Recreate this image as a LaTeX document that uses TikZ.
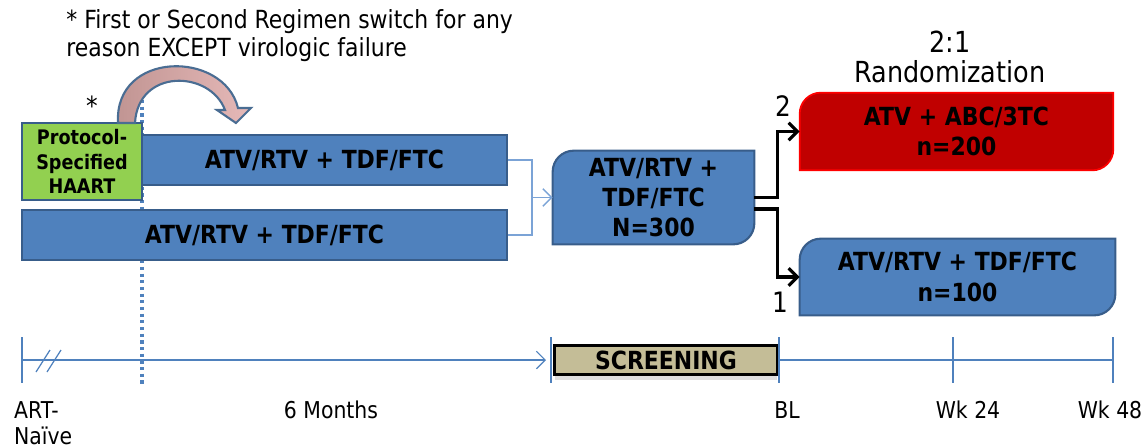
\documentclass[tikz,border=0pt]{standalone}
\usepackage{fontspec}
\setmainfont{DejaVu Sans}[FakeStretch=0.88]
\usetikzlibrary{arrows.meta,backgrounds,shadows}

\definecolor{armblue}{HTML}{4F81BD}
\definecolor{armedge}{HTML}{385D8A}
\definecolor{haartgreen}{HTML}{92D050}
\definecolor{atvred}{HTML}{C00000}
\definecolor{screenfill}{HTML}{C4BD97}
\definecolor{linkblue}{HTML}{7BA3D6}
\definecolor{switchdark}{HTML}{C09492}
\definecolor{switchlight}{HTML}{E6B9B8}
\definecolor{switchedge}{HTML}{4A6D93}

% box with round top-left and bottom-right corners, drawn behind node #2
\newcommand\diagcorners[2]{%
  \begin{scope}[on background layer]
    \path[#1] (#2.south west) [rounded corners=12pt] -- (#2.north west)
      [sharp corners] -- (#2.north east) [rounded corners=12pt] -- (#2.south east)
      [sharp corners] -- cycle;
  \end{scope}}

\begin{document}
\begin{tikzpicture}[x=0.02cm,y=-0.02cm,
    armbox/.style={inner sep=0pt,align=center,font=\fontsize{14.2}{17.3}\selectfont\bfseries},
    armfill/.style={fill=armblue,draw=armedge,line width=1.2pt},
    bar/.style={armbox,armfill,minimum height=1cm},
    tick/.style={draw=armblue,line width=1.6pt},
    timelabel/.style={font=\fontsize{13.2}{14.5}\selectfont},
    randarrow/.style={draw=black,line width=1.8pt,-{Straight Barb[length=5pt,width=10pt]}},
    linkarrow/.style={draw=linkblue,line width=0.8pt,-{Straight Barb[length=5pt,width=10pt]}}]
	\useasboundingbox (0,0) rectangle (1146,447);

	% note on the switch
	\node[anchor=west,align=left,inner sep=0pt,font=\fontsize{14.2}{16}\selectfont] (note) at (66,36)
	  {* First or Second Regimen switch for any\\reason EXCEPT virologic failure};
	\node[font=\fontsize{15}{15}\selectfont] (star) at (92,106) {*};

	% run-in arms
	\draw[draw=armblue,line width=1.8pt,dotted] (142,100) -- (142,386);
	\node[bar,minimum width=7.3cm] (arm1) at (324.5,160) {ATV/RTV + TDF/FTC};
	\node[bar,minimum width=9.7cm] (arm2) at (264.5,235) {ATV/RTV + TDF/FTC};
	\node[armbox,fill=haartgreen,draw=armedge,line width=1.2pt,minimum width=2.4cm,minimum height=1.54cm,
	  font=\fontsize{11.4}{14}\selectfont\bfseries] (haart) at (82,161.5) {Protocol-\\Specified\\HAART};

	% curved switch arrow
	\path[left color=switchdark,right color=switchlight,draw=switchedge,line width=1.2pt]
	  (118,123) .. controls (114,50) and (224,50) .. (238,108) -- (251,108) -- (236,123)
	  -- (217,110) -- (225,110) .. controls (210,70) and (138,68) .. (135,123) -- cycle;

	% pooled arm
	\node[armbox,minimum width=4.02cm,minimum height=1.86cm] (pool) at (653.5,197.5) {ATV/RTV +\\TDF/FTC\\N=300};
	\diagcorners{armfill}{pool}
	\draw[draw=linkblue,line width=0.8pt] (arm1.east) -- ++(24,0) coordinate (join) |- (arm2.east);
	\path[linkarrow] (join |- pool.west) -- (pool.west);

	% randomized arms
	\node[font=\fontsize{16.5}{17}\selectfont,align=center] (rand) at (950,57) {2:1\\Randomization};
	\node[armbox,minimum width=6.26cm,minimum height=1.54cm] (abc) at (956.5,131.5) {ATV + ABC/3TC\\n=200};
	\diagcorners{fill=atvred,draw=red,line width=1pt}{abc}
	\node[armbox,minimum width=6.3cm,minimum height=1.52cm] (tdf) at (957.5,277) {ATV/RTV + TDF/FTC\\n=100};
	\diagcorners{armfill}{tdf}
	\path[randarrow] (pool.east) -- ++(23,0) |- (abc.west);
	\path[randarrow] ([yshift=-6.5pt]pool.east) -- ++(23,0) |- (tdf.west);
	\node[font=\fontsize{16}{16}\selectfont] (two) at (783,106) {2};
	\node[font=\fontsize{16}{16}\selectfont] (one) at (780,302) {1};

	% timeline
	\coordinate (naive) at (22,360);
	\coordinate (start) at (551,360);
	\coordinate (base) at (779,360);
	\coordinate (wk24) at (953,360);
	\coordinate (wk48) at (1113,360);
	\coordinate (arrowend) at (546,360);
	\node[armbox,font=\fontsize{14.2}{14}\selectfont\bfseries,fill=screenfill,draw=black,line width=1.8pt,
	  minimum width=4.45cm,minimum height=0.58cm,drop shadow={opacity=0.25,shadow xshift=0pt,shadow yshift=-3pt}]
	  (screen) at (666,360) {SCREENING};
	\path[draw=armblue,line width=0.7pt,-{Straight Barb[length=5pt,width=10pt]}] (naive) -- (arrowend);
	\draw[draw=armblue,line width=0.7pt] (base) -- (wk48);
	\foreach \t in {naive,start,base,wk24,wk48}
	  \draw[tick] (\t) ++(0,-23) -- ++(0,46);
	\draw[draw=armblue,line width=0.7pt] (36,372) -- (50,350) (47,372) -- (61,350);

	\node[timelabel,anchor=west,align=left] (artlabel) at (8,423) {ART-\\Naïve};
	\node[timelabel] (monthlabel) at (331,410) {6 Months};
	\node[timelabel] (bllabel) at (787,410) {BL};
	\node[timelabel] (wk24label) at (968,410) {Wk 24};
	\node[timelabel] (wk48label) at (1110,410) {Wk 48};
\end{tikzpicture}
\end{document}
